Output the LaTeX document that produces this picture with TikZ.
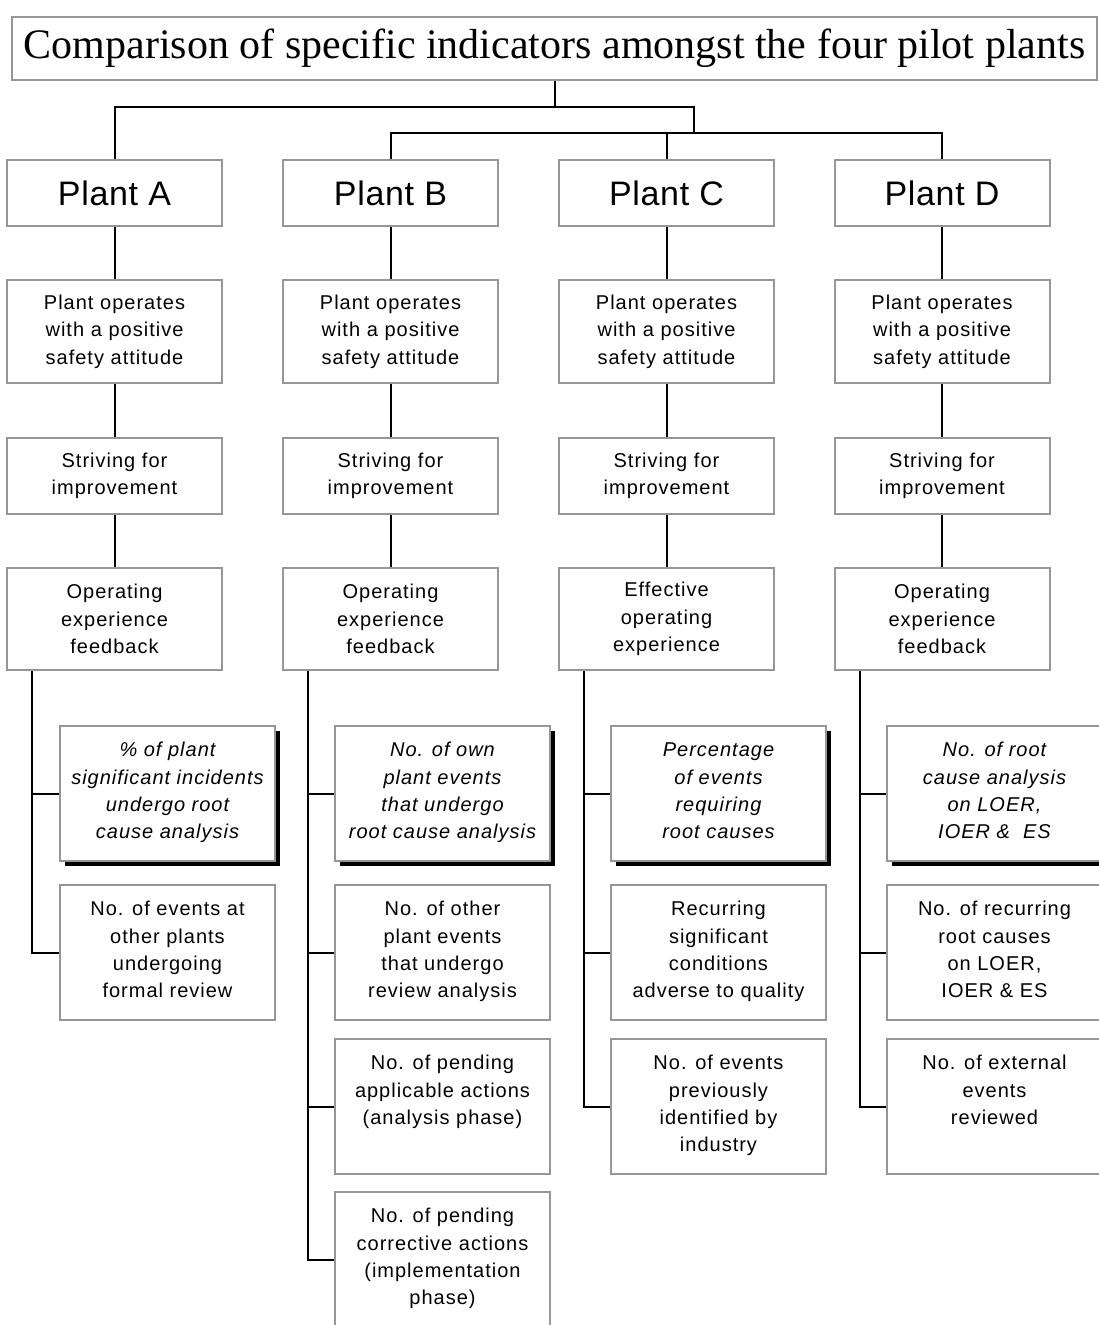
\documentclass[tikz,border=0pt]{standalone}
\usepackage{fontspec}
\setmainfont{Liberation Sans}[LetterSpace=5]
\newfontfamily\plantfont{Liberation Sans}[LetterSpace=2]
\newfontfamily\headfont{Liberation Serif}
\usetikzlibrary{shadows}
\definecolor{edgegray}{RGB}{150,150,150}
\newcommand\cellfont{\fontsize{15}{20.5}\selectfont}
% indicator cell: fixed height, lines hung from the top
\newcommand\topcell[1]{\parbox[c][101.25pt][t]{161.25pt}{\centering\rule{0pt}{23pt}#1}}
\tikzset{
  frame/.style={draw=edgegray, line width=1.5pt, fill=white, inner sep=0pt},
  headbox/.style={frame, minimum width=813.75pt, minimum height=47.25pt,
    font=\headfont\fontsize{31.5}{36}\selectfont},
  plantbox/.style={frame, minimum width=161.25pt, minimum height=49.5pt,
    font=\plantfont\fontsize{25.5}{30}\selectfont},
  stepbox/.style={frame, minimum width=161.25pt, text width=158pt, align=center, font=\cellfont},
  indbox/.style={frame, font=\cellfont},
  keybox/.style={frame, font=\cellfont\itshape,
    drop shadow={shadow xshift=3.75pt, shadow yshift=-3.75pt, fill=black, opacity=1}},
  link/.style={line width=1.5pt, draw=black}
}
\begin{document}
\begin{tikzpicture}[x=0.75pt,y=-0.75pt]
\useasboundingbox (0,0) rectangle (1099,1325);

% heading
\node[headbox] (title) at (554.5,48.5) {Comparison of specific indicators amongst the four pilot plants};

% plants
\node[plantbox] (pA) at (114.5,193) {Plant A};
\node[plantbox] (pB) at (390.5,193) {Plant B};
\node[plantbox] (pC) at (666.5,193) {Plant C};
\node[plantbox] (pD) at (942,193) {Plant D};

% objective levels
\foreach \c/\x in {A/114.5,B/390.5,C/666.5,D/942}{
  \node[stepbox, minimum height=77.25pt] (\c2) at (\x,331.5) {Plant operates\\with a positive\\safety attitude};
  \node[stepbox, minimum height=57pt] (\c3) at (\x,476) {Striving for\\improvement};
}
\node[stepbox, minimum height=76.5pt] (A4) at (114.5,619) {Operating\\experience\\feedback};
\node[stepbox, minimum height=76.5pt] (B4) at (390.5,619) {Operating\\experience\\feedback};
\node[stepbox, minimum height=76.5pt] (C4) at (666.5,619) {Effective\\operating\\experience};
\node[stepbox, minimum height=76.5pt] (D4) at (942,619) {Operating\\experience\\feedback};

% specific indicators, plant A
\node[keybox] (A5) at (167.5,793.5) {\topcell{\% of plant\\significant incidents\\undergo root\\cause analysis}};
\node[indbox] (A6) at (167.5,952.5) {\topcell{No. of events at\\other plants\\undergoing\\formal review}};

% plant B
\node[keybox] (B5) at (442.5,793.5) {\topcell{No. of own\\plant events\\that undergo\\root cause analysis}};
\node[indbox] (B6) at (442.5,952.5) {\topcell{No. of other\\plant events\\that undergo\\review analysis}};
\node[indbox] (B7) at (442.5,1106.5) {\topcell{No. of pending\\applicable actions\\(analysis phase)}};
\node[indbox] (B8) at (442.5,1259.5) {\topcell{No. of pending\\corrective actions\\(implementation\\phase)}};

% plant C
\node[keybox] (C5) at (718.5,793.5) {\topcell{Percentage\\of events\\requiring\\root causes}};
\node[indbox] (C6) at (718.5,952.5) {\topcell{Recurring\\significant\\conditions\\adverse to quality}};
\node[indbox] (C7) at (718.5,1106.5) {\topcell{No. of events\\previously\\identified by\\industry}};

% plant D
\node[keybox] (D5) at (994.5,793.5) {\topcell{No. of root\\cause analysis\\on LOER,\\IOER \&\ \ ES}};
\node[indbox] (D6) at (994.5,952.5) {\topcell{No. of recurring\\root causes\\on LOER,\\IOER \& ES}};
\node[indbox] (D7) at (994.5,1106.5) {\topcell{No. of external\\events\\reviewed}};

% tree from the heading to the plants
\coordinate (j1) at (694,107);
\coordinate (j2) at (694,133);
\draw[link] (title.south) -- (title.south |- j1);
\draw[link] (pA.north) |- (j1) -- (j2);
\draw[link] (pB.north) |- (j2) -| (pD.north);
\draw[link] (pC.north) -- (pC.north |- j2);

% vertical chains
\foreach \c in {A,B,C,D}{
  \draw[link] (p\c.south) -- (\c2.north) (\c2.south) -- (\c3.north) (\c3.south) -- (\c4.north);
}

% spines to the indicators
\draw[link] ([xshift=19.5pt]A4.south west) |- (A6.west);
\draw[link] ([xshift=19.5pt]A4.south west) |- (A5.west);
\draw[link] ([xshift=19.5pt]B4.south west) |- (B8.west);
\foreach \r in {5,6,7}{\draw[link] ([xshift=19.5pt]B4.south west) |- (B\r.west);}
\draw[link] ([xshift=19.5pt]C4.south west) |- (C7.west);
\foreach \r in {5,6}{\draw[link] ([xshift=19.5pt]C4.south west) |- (C\r.west);}
\draw[link] ([xshift=19.5pt]D4.south west) |- (D7.west);
\foreach \r in {5,6}{\draw[link] ([xshift=19.5pt]D4.south west) |- (D\r.west);}
\end{tikzpicture}
\end{document}
